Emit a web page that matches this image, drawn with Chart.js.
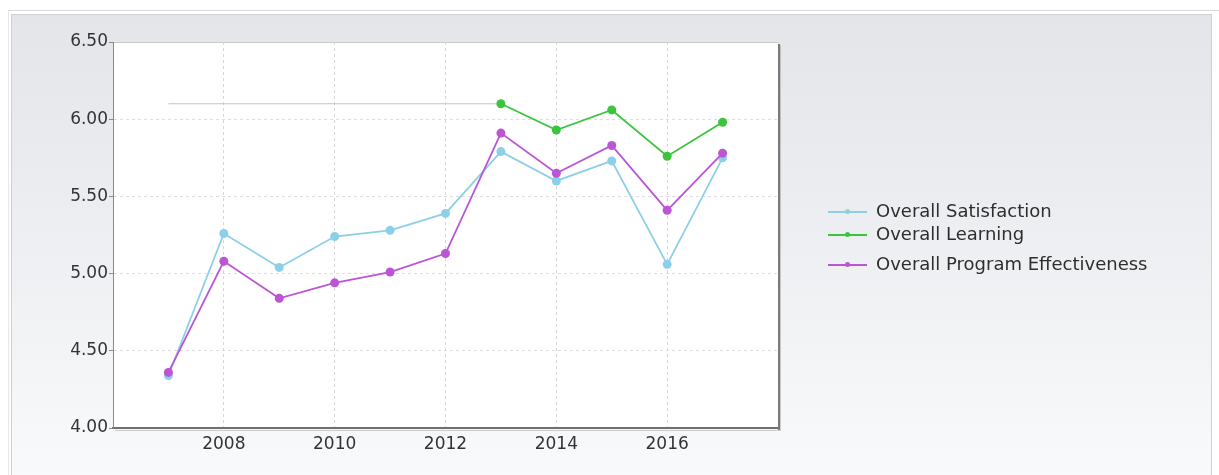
<!DOCTYPE html>
<html>
<head>
<meta charset="utf-8">
<script src="https://cdn.jsdelivr.net/npm/chart.js@4"></script>
<style>
  html, body { margin: 0; padding: 0; background: #ffffff; }
  #outer {
    position: absolute; left: 8px; top: 10px; width: 1211px; height: 470px;
    border-top: 1px solid #d9dadd; border-left: 1px solid #e6e7ea;
  }
  #panel {
    position: absolute; left: 11px; top: 14px; width: 1199px; height: 466px;
    border: 1px solid #cfd1d5;
    background: linear-gradient(to bottom, #e3e5e9 0%, #edeef1 45%, #f9fafb 100%);
  }
  #wrap { position: absolute; left: 0; top: 0; width: 1219px; height: 475px; }
  #legend {
    position: absolute; left: 828px; top: 201px;
    font-family: "DejaVu Sans", sans-serif; font-size: 18px; color: #2e2e2e;
  }
  .row { position: absolute; left: 0; white-space: nowrap; height: 20px; }
  .swatch { position: absolute; left: 0; top: 10px; width: 39px; height: 2px; }
  .swatch span {
    position: absolute; left: 17px; top: -2px; width: 5px; height: 5px; border-radius: 50%;
  }
  .label { position: absolute; left: 48px; top: 0; line-height: 20px; }
</style>
</head>
<body>
<div id="outer"></div>
<div id="panel"></div>
<div id="wrap"><canvas id="grafico" width="1219" height="475"></canvas></div>
<div id="legend"></div>
<script>
// Anos (eixo X)
const anos = [2007, 2008, 2009, 2010, 2011, 2012, 2013, 2014, 2015, 2016, 2017];

// Séries
const satisfacao = [4.34, 5.26, 5.04, 5.24, 5.28, 5.39, 5.79, 5.60, 5.73, 5.06, 5.75];
const aprendizado = [null, null, null, null, null, null, 6.10, 5.93, 6.06, 5.76, 5.98];
const efetividade = [4.36, 5.08, 4.84, 4.94, 5.01, 5.13, 5.91, 5.65, 5.83, 5.41, 5.78];
// Pontos vazios de "Overall Learning" (linha cinza antes de 2013)
const aprendizadoVazio = [6.10, 6.10, 6.10, 6.10, 6.10, 6.10, 6.10, null, null, null, null];

const nomes = ['Overall Satisfaction', 'Overall Learning', 'Overall Program Effectiveness'];
const cores = ['#8ccfe8', '#3cc43c', '#bb55d4'];
const legendaTopos = [0, 23, 53];

const yTicks = [4.0, 4.5, 5.0, 5.5, 6.0, 6.5];
const xTicksVisiveis = [2008, 2010, 2012, 2014, 2016];

function pontos(valores) {
  return anos.map((a, i) => ({ x: a, y: valores[i] }));
}

function serie(i, valores, ordem) {
  return {
    label: nomes[i],
    data: pontos(valores),
    borderColor: cores[i],
    backgroundColor: cores[i],
    pointBackgroundColor: cores[i],
    pointBorderWidth: 0,
    pointRadius: 4.5,
    borderWidth: 1.8,
    tension: 0,
    fill: false,
    order: ordem
  };
}

// Área de plotagem branca com sombra
const fundoPlot = {
  id: 'fundoPlot',
  beforeDraw(chart) {
    const { ctx, chartArea: a } = chart;
    ctx.save();
    ctx.fillStyle = '#ffffff';
    ctx.fillRect(a.left, a.top, a.right - a.left, a.bottom - a.top);
    ctx.strokeStyle = '#c9c9c9';
    ctx.lineWidth = 1;
    ctx.beginPath();
    ctx.moveTo(a.left, a.top + 0.5);
    ctx.lineTo(a.right, a.top + 0.5);
    ctx.stroke();
    ctx.restore();
  },
  afterDraw(chart) {
    const { ctx, chartArea: a } = chart;
    ctx.save();
    ctx.strokeStyle = '#7a7a7a';
    ctx.lineWidth = 2;
    ctx.beginPath();
    ctx.moveTo(a.right + 1, a.top + 2);
    ctx.lineTo(a.right + 1, a.bottom + 2);
    ctx.stroke();
    ctx.strokeStyle = 'rgba(120,120,120,0.35)';
    ctx.lineWidth = 1;
    ctx.beginPath();
    ctx.moveTo(a.right + 2.5, a.top + 3);
    ctx.lineTo(a.right + 2.5, a.bottom + 3);
    ctx.moveTo(a.left + 2, a.bottom + 2.5);
    ctx.lineTo(a.right + 2, a.bottom + 2.5);
    ctx.stroke();
    ctx.restore();
  }
};

const ctx = document.getElementById('grafico');
new Chart(ctx, {
  type: 'line',
  data: {
    datasets: [
      serie(0, satisfacao, 2),
      serie(1, aprendizado, 1),
      serie(2, efetividade, 0),
      {
        label: 'vazio',
        data: pontos(aprendizadoVazio),
        borderColor: '#c4c4c4',
        borderWidth: 1,
        pointRadius: 0,
        fill: false,
        order: 3
      }
    ]
  },
  options: {
    responsive: false,
    animation: false,
    devicePixelRatio: 1,
    layout: { padding: { left: 0, top: 42, right: 441, bottom: 0 } },
    plugins: { legend: { display: false }, tooltip: { enabled: false } },
    scales: {
      x: {
        type: 'linear',
        min: 2006,
        max: 2018,
        afterFit(scale) { scale.height = 47; },
        ticks: {
          stepSize: 2,
          padding: 2,
          color: '#333333',
          font: { family: 'DejaVu Sans', size: 17 },
          maxRotation: 0,
          callback: v => xTicksVisiveis.includes(v) ? String(v) : ''
        },
        grid: {
          color: c => (c.tick && xTicksVisiveis.includes(c.tick.value)) ? '#d6d6d6' : 'rgba(0,0,0,0)',
          tickLength: 4,
          tickColor: 'rgba(0,0,0,0)'
        },
        border: { display: true, color: '#6f6f6f', width: 2, dash: [3, 3] }
      },
      y: {
        min: 4.0,
        max: 6.5,
        afterFit(scale) { scale.width = 113; },
        afterBuildTicks(scale) { scale.ticks = yTicks.map(v => ({ value: v })); },
        ticks: {
          padding: 1,
          color: '#333333',
          font: { family: 'DejaVu Sans', size: 17 },
          callback: v => Number(v).toFixed(2)
        },
        grid: {
          color: c => (c.tick && (c.tick.value === 4.0 || c.tick.value === 6.5)) ? 'rgba(0,0,0,0)' : '#dedede',
          tickLength: 4,
          tickColor: '#8a8a8a'
        },
        border: { display: true, color: '#8a8a8a', width: 1, dash: [3, 3] }
      }
    }
  },
  plugins: [fundoPlot]
});

// Legenda em HTML
const legenda = document.getElementById('legend');
nomes.forEach((nome, i) => {
  const row = document.createElement('div');
  row.className = 'row';
  row.style.top = legendaTopos[i] + 'px';
  row.innerHTML = '<div class="swatch" style="background:' + cores[i] + '"><span style="background:' +
    cores[i] + '"></span></div><div class="label">' + nome + '</div>';
  legenda.appendChild(row);
});
</script>
</body>
</html>
